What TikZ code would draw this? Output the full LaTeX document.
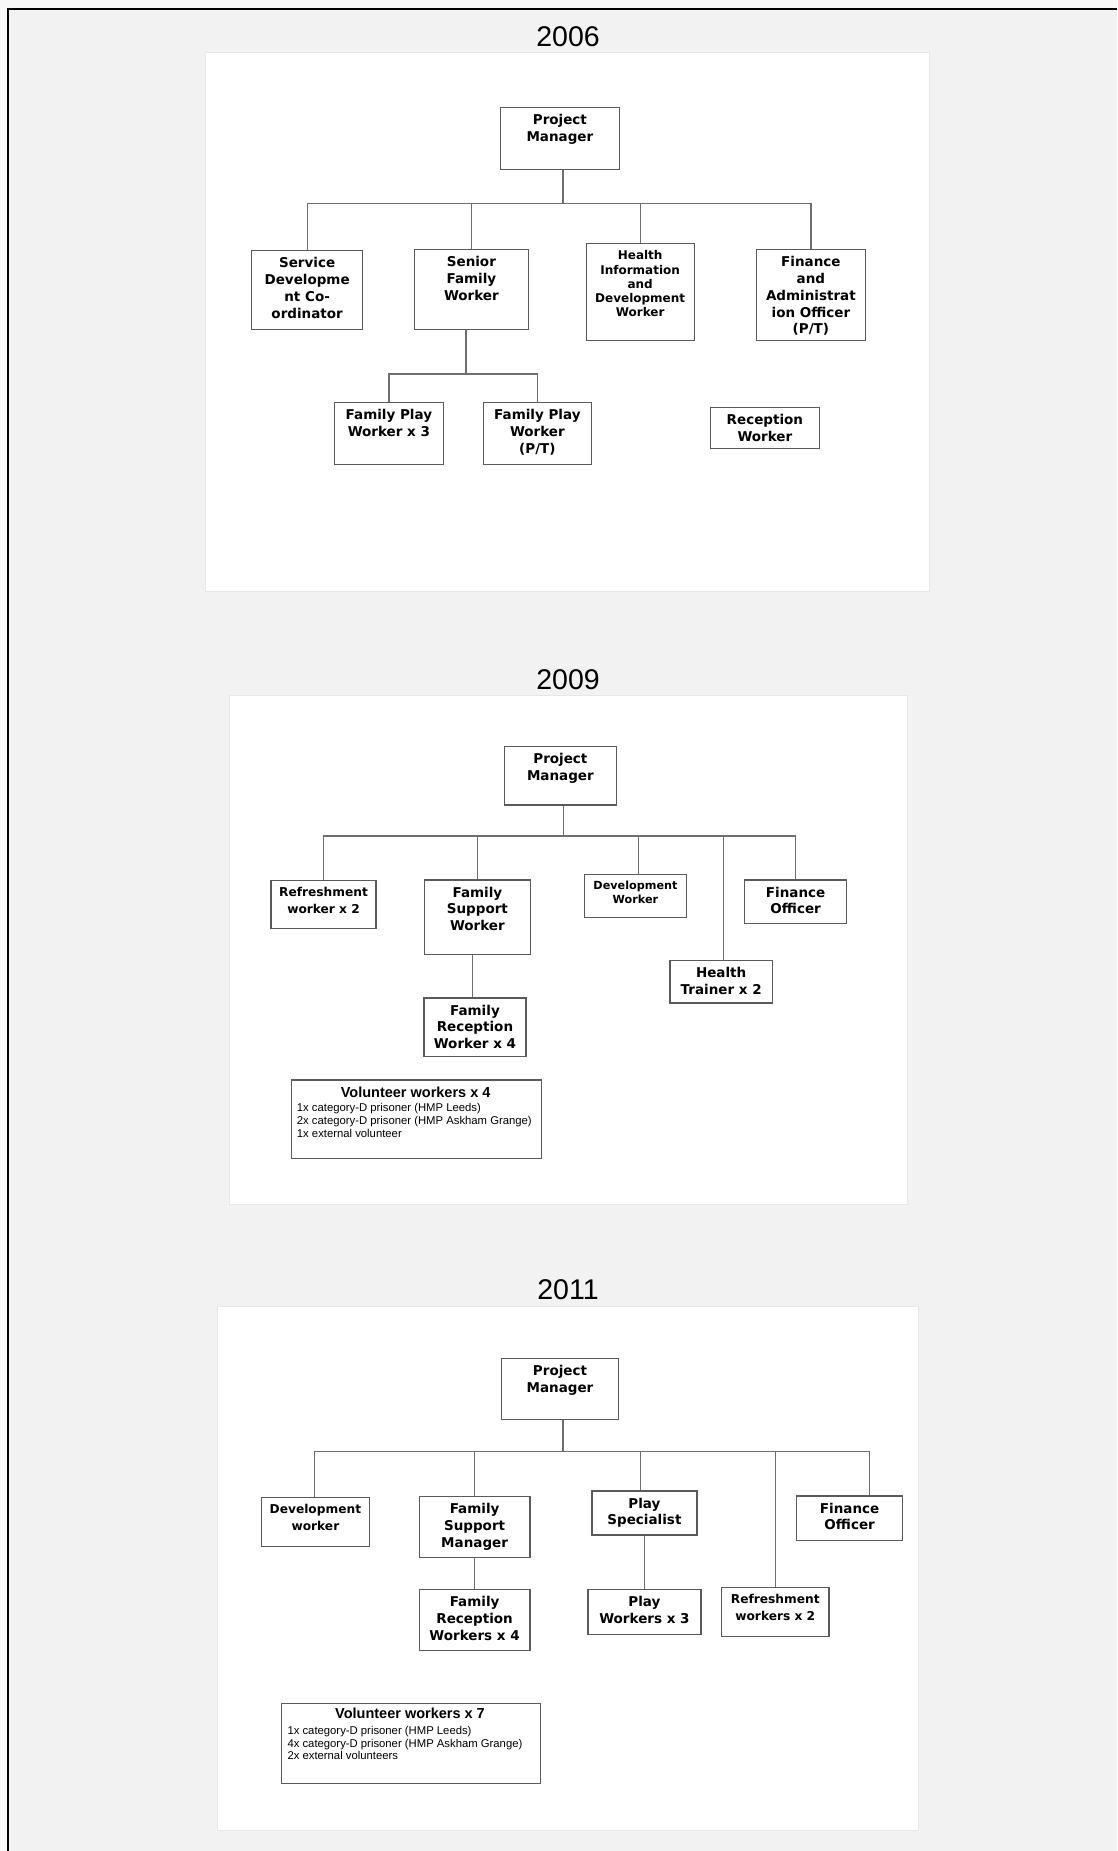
\documentclass[tikz,border=0pt]{standalone}
\usepackage{fontspec}
\setmainfont{Liberation Sans}
\newfontfamily\vfont{DejaVu Sans}
\definecolor{bgc}{HTML}{F2F2F2}
\definecolor{outc}{HTML}{F8F8F8}
\definecolor{boxc}{HTML}{5A5A5A}
\definecolor{linec}{HTML}{6E6E6E}
\definecolor{panelc}{HTML}{E8E8E8}
\newcommand\fntA{\vfont\bfseries\fontsize{13.5}{16.7}\selectfont}
\newcommand\fntB{\vfont\bfseries\fontsize{12}{14.2}\selectfont}
\newcommand\fntC{\vfont\bfseries\fontsize{11.2}{13.6}\selectfont}
\newcommand\fntD{\vfont\bfseries\fontsize{12.2}{16.7}\selectfont}
\newcommand\fntVT{\bfseries\fontsize{14.5}{16}\selectfont}
\newcommand\fntVB{\fontsize{11.3}{13.3}\selectfont}
\tikzset{
  obox/.style={draw=boxc, line width=1.3pt, fill=white, inner sep=0pt, rectangle},
  otext/.style={inner sep=0pt, align=center, text=black},
  conn/.style={draw=linec, line width=1.2pt},
  ttl/.style={font=\fontsize{28.5}{30}\selectfont, anchor=base, inner sep=0pt},
  panel/.style={fill=white, draw=panelc, line width=0.6pt},
}
% name, x1, y1, x2, y2, font, text
\newcommand\obx[7]{%
  \node[obox, anchor=north west, minimum width={(#4-#2)*1pt}, minimum height={(#5-#3)*1pt}] (#1) at (#2,#3) {};
  \node[otext, font=#6, anchor=north] (#1t) at ([yshift=-7.5pt]#1.north) {#7};}
\begin{document}
\begin{tikzpicture}[x=1pt, y=-1pt]
\useasboundingbox (0,0) rectangle (1117,1851);
\fill[outc] (0,0) rectangle (1117,1851);
\fill[bgc] (7.8,9.3) rectangle (1117,1851);
\draw[line width=2.3pt] (7.8,1851) -- (7.8,9.3) -- (1117,9.3);

% ---------------- 2006 ----------------
\node[ttl] (t2006) at (568,46.7) {2006};
\path[panel] (205.5,52) rectangle (929,591.5);
\obx{pmA}{499.5}{107}{619}{169}{\fntA}{Project\\Manager}
\obx{sdc}{251}{250}{362}{328.5}{\fntA}{Service\\Developme\\nt Co-\\ordinator}
\obx{sfw}{414}{249}{527.5}{328.5}{\fntA}{Senior\\Family\\Worker}
\obx{hid}{585.5}{243}{693.5}{339.5}{\fntB}{Health\\Information\\and\\Development\\Worker}
\obx{fao}{756}{249}{864.5}{339.5}{\fntA}{Finance\\and\\Administrat\\ion Officer\\(P/T)}
\obx{fpwA}{334}{402}{442.5}{464}{\fntA}{Family Play\\Worker x 3}
\obx{fpwB}{482.5}{402}{591}{464}{\fntA}{Family Play\\Worker\\(P/T)}
\obx{rw}{710}{407}{818.5}{448}{\fntA}{Reception\\Worker}
\coordinate (bA) at (562,203.5);
\coordinate (bB) at (465,374);
\draw[conn] ([xshift=3pt]pmA.south) -- ([xshift=3pt]pmA.south |- bA);
\draw[conn] (sdc.north) |- (fao.north |- bA) -- (fao.north);
\draw[conn] (sfw.north) -- (sfw.north |- bA);
\draw[conn] (hid.north) -- (hid.north |- bA);
\draw[conn] ([xshift=-5.5pt]sfw.south) -- ([xshift=-5.5pt]sfw.south |- bB);
\draw[conn] (fpwA.north) |- (fpwB.north |- bB) -- (fpwB.north);

% ---------------- 2009 ----------------
\node[ttl] (t2009) at (568,689) {2009};
\path[panel] (229,695.5) rectangle (907,1204);
\obx{pmB}{503.5}{745.7}{616}{804.3}{\fntA}{Project\\Manager}
\obx{rfB}{270.4}{880}{375.4}{928}{\fntD}{Refreshment\\worker x 2}
\obx{fswB}{423.5}{879.3}{530}{954}{\fntA}{Family\\Support\\Worker}
\obx{dwB}{584}{873.7}{685.6}{917}{\fntC}{Development\\Worker}
\obx{foB}{744}{879.3}{846}{922.7}{\fntA}{Finance\\Officer}
\obx{htB}{669.3}{960}{771.7}{1002.3}{\fntA}{Health\\Trainer x 2}
\obx{frwB}{423.3}{997.3}{525.3}{1056}{\fntA}{Family\\Reception\\Worker x 4}
\node[obox, anchor=north west, minimum width=250.2pt, minimum height=78.4pt] (volB) at (290.5,1079.3) {};
\node[inner sep=0pt, anchor=base, font=\fntVT] (volBt) at (415.6,1097.5) {Volunteer workers x 4};
\node[inner sep=0pt, anchor=base west, font=\fntVB] (volBa) at (296.7,1111) {1x category-D prisoner (HMP Leeds)};
\node[inner sep=0pt, anchor=base west, font=\fntVB] (volBb) at (296.7,1124.3) {2x category-D prisoner (HMP Askham Grange)};
\node[inner sep=0pt, anchor=base west, font=\fntVB] (volBc) at (296.7,1137.6) {1x external volunteer};
\coordinate (bC) at (563,836);
\draw[conn] ([xshift=3pt]pmB.south) -- ([xshift=3pt]pmB.south |- bC);
\draw[conn] (rfB.north) |- (foB.north |- bC) -- (foB.north);
\draw[conn] (fswB.north) -- (fswB.north |- bC);
\draw[conn] ([xshift=3pt]dwB.north) -- ([xshift=3pt]dwB.north |- bC);
\draw[conn] ([xshift=2.5pt]htB.north) -- ([xshift=2.5pt]htB.north |- bC);
\draw[conn] ([xshift=-5pt]fswB.south) -- ([xshift=-5pt]fswB.south |- frwB.north);

% ---------------- 2011 ----------------
\node[ttl] (t2011) at (568,1299.5) {2011};
\path[panel] (217,1306) rectangle (918.5,1830);
\obx{pmC}{501}{1358}{617.7}{1419}{\fntA}{Project\\Manager}
\obx{devC}{260.5}{1497}{369}{1545.7}{\fntD}{Development\\worker}
\obx{fsmC}{418.6}{1495.7}{529.3}{1556.7}{\fntA}{Family\\Support\\Manager}
\obx{psC}{591.3}{1490.3}{696.3}{1534.3}{\fntA}{Play\\Specialist}
\obx{foC}{796}{1495.3}{902}{1540}{\fntA}{Finance\\Officer}
\obx{frwC}{418.6}{1589}{529.3}{1650}{\fntA}{Family\\Reception\\Workers x 4}
\obx{pwC}{587.3}{1589}{700.3}{1634}{\fntA}{Play\\Workers x 3}
\obx{rfC}{720.8}{1587}{828.4}{1635.7}{\fntD}{Refreshment\\workers x 2}
\node[obox, anchor=north west, minimum width=259pt, minimum height=80pt] (volC) at (280.5,1702.5) {};
\node[inner sep=0pt, anchor=base, font=\fntVT] (volCt) at (410,1718.7) {Volunteer workers x 7};
\node[inner sep=0pt, anchor=base west, font=\fntVB] (volCa) at (287.3,1734.3) {1x category-D prisoner (HMP Leeds)};
\node[inner sep=0pt, anchor=base west, font=\fntVB] (volCb) at (287.3,1747) {4x category-D prisoner (HMP Askham Grange)};
\node[inner sep=0pt, anchor=base west, font=\fntVB] (volCc) at (287.3,1759.7) {2x external volunteers};
\coordinate (bD) at (562.3,1451.7);
\draw[conn] ([xshift=3pt]pmC.south) -- ([xshift=3pt]pmC.south |- bD);
\draw[conn] ([xshift=-1pt]devC.north) |- ([xshift=19.6pt]foC.north |- bD) -- ([xshift=19.6pt]foC.north);
\draw[conn] (fsmC.north) -- (fsmC.north |- bD);
\draw[conn] ([xshift=-4pt]psC.north) -- ([xshift=-4pt]psC.north |- bD);
\draw[conn] (rfC.north) -- (rfC.north |- bD);
\draw[conn] (fsmC.south) -- (fsmC.south |- frwC.north);
\draw[conn] (psC.south) -- (psC.south |- pwC.north);
\end{tikzpicture}
\end{document}
